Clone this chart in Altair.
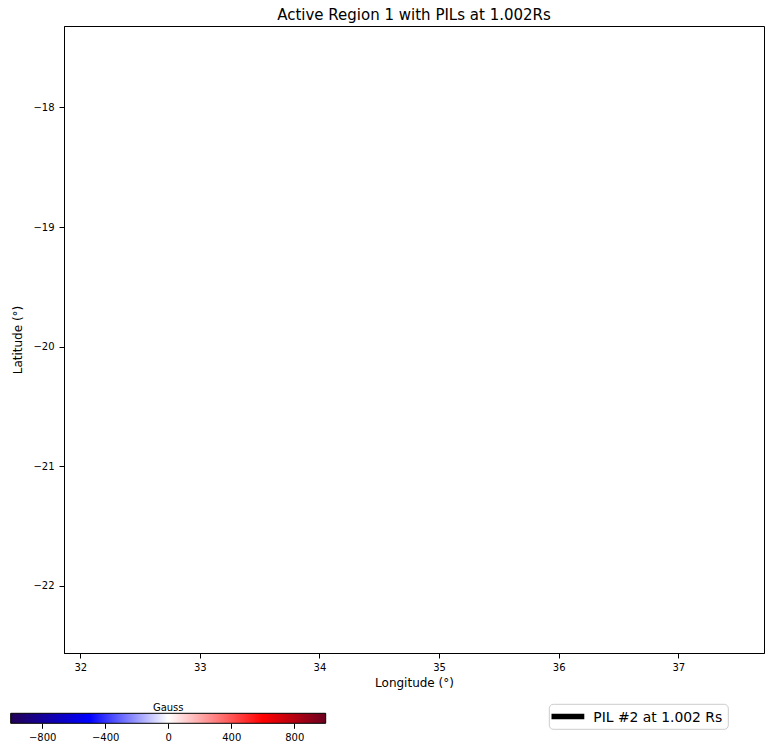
import altair as alt
import pandas as pd

# ---- data -------------------------------------------------------------
title_text = "Active Region 1 with PILs at 1.002Rs"
pil_label = "PIL #2 at 1.002 Rs"
pil_lon = []          # no PIL points visible inside the window
pil_lat = []
lon_domain = [31.864, 37.717]
lat_domain = [-22.56, -17.32]
lon_ticks = [32, 33, 34, 35, 36, 37]
lat_ticks = [-22, -21, -20, -19, -18]
gauss_range = [-1000, 1000]
gauss_ticks = [-800, -400, 0, 400, 800]
cmap_offsets = [0.0, 0.25, 0.5, 0.8, 1.0]
cmap_colors = ["#220055", "#0000ff", "#ffffff", "#ff0000", "#6b0020"]

FONT = "DejaVu Sans"

pil_df = pd.DataFrame({"lon": pd.Series(pil_lon, dtype=float),
                       "lat": pd.Series(pil_lat, dtype=float)})
cbar_df = pd.DataFrame({"g0": [gauss_range[0]], "g1": [gauss_range[1]],
                        "mid": [0], "label": ["Gauss"]})
legend_df = pd.DataFrame({"label": [pil_label]})

# ---- main (empty) map panel -------------------------------------------
pil = alt.Chart(pil_df).mark_line(strokeWidth=5.5, clip=True, color="black").encode(
    x=alt.X("lon:Q",
            scale=alt.Scale(domain=lon_domain, nice=False, zero=False),
            axis=alt.Axis(title="Longitude (°)", values=lon_ticks, format="d",
                          labelPadding=4, titlePadding=5)),
    y=alt.Y("lat:Q",
            scale=alt.Scale(domain=lat_domain, nice=False, zero=False),
            axis=alt.Axis(title="Latitude (°)", values=lat_ticks, format="d",
                          labelPadding=5, titlePadding=8)),
)

# ---- legend box (bottom right, outside the axes) ----------------------
leg_box = alt.Chart(legend_df).mark_rect(fill="white", stroke="#cccccc", strokeWidth=1,
                                         cornerRadius=4).encode(
    x=alt.value(485.3), x2=alt.value(664.3), y=alt.value(678.3), y2=alt.value(703.3))
leg_line = alt.Chart(legend_df).mark_rule(color="black", strokeWidth=5.5).encode(
    x=alt.value(487.5), x2=alt.value(520.3), y=alt.value(690.4))
leg_text = alt.Chart(legend_df).mark_text(font=FONT, fontSize=13.9, color="black",
                                          align="left", baseline="alphabetic").encode(
    x=alt.value(529.3), y=alt.value(695.8), text="label:N")

# ---- colorbar ---------------------------------------------------------
gradient = alt.LinearGradient(
    gradient="linear",
    stops=[alt.GradientStop(offset=o, color=c) for o, c in zip(cmap_offsets, cmap_colors)],
    x1=0, x2=1, y1=0, y2=0,
)
cbar_scale = alt.Scale(domain=gauss_range, range=[-53.3, 261.7], nice=False, zero=False)
cbar_axis = alt.Axis(orient="bottom", offset=70.3, values=gauss_ticks,
                     domain=False, title=None, labelPadding=4)

cbar_rect = alt.Chart(cbar_df).mark_rect(fill=gradient, stroke="black", strokeWidth=1).encode(
    x=alt.X("g0:Q", scale=cbar_scale, axis=cbar_axis),
    x2="g1:Q",
    y=alt.value(687.3),
    y2=alt.value(697.3),
)
cbar_text = alt.Chart(cbar_df).mark_text(font=FONT, fontSize=10, color="black",
                                         baseline="alphabetic").encode(
    x=alt.X("mid:Q", scale=cbar_scale, axis=cbar_axis),
    y=alt.value(685.3),
    text="label:N",
)
cbar = alt.layer(cbar_rect, cbar_text)

chart = alt.layer(pil, leg_box, leg_line, leg_text, cbar).resolve_scale(
    x="independent"
).resolve_axis(x="independent").properties(
    width=700, height=627,
    title=alt.TitleParams(title_text, font=FONT, fontSize=15, fontWeight="normal",
                          color="black", anchor="middle", offset=3),
    padding={"left": 56, "top": 18, "right": 8, "bottom": 92},
    autosize=alt.AutoSizeParams(type="none"),
).configure_view(stroke="black", strokeWidth=1).configure_axis(
    grid=False, labelFont=FONT, labelFontSize=10, labelColor="black",
    titleFont=FONT, titleFontSize=12, titleColor="black", titleFontWeight="normal",
    tickColor="black", tickSize=5, domainColor="black",
)

chart.save("out.html", embed_options={"renderer": "svg", "actions": False})
